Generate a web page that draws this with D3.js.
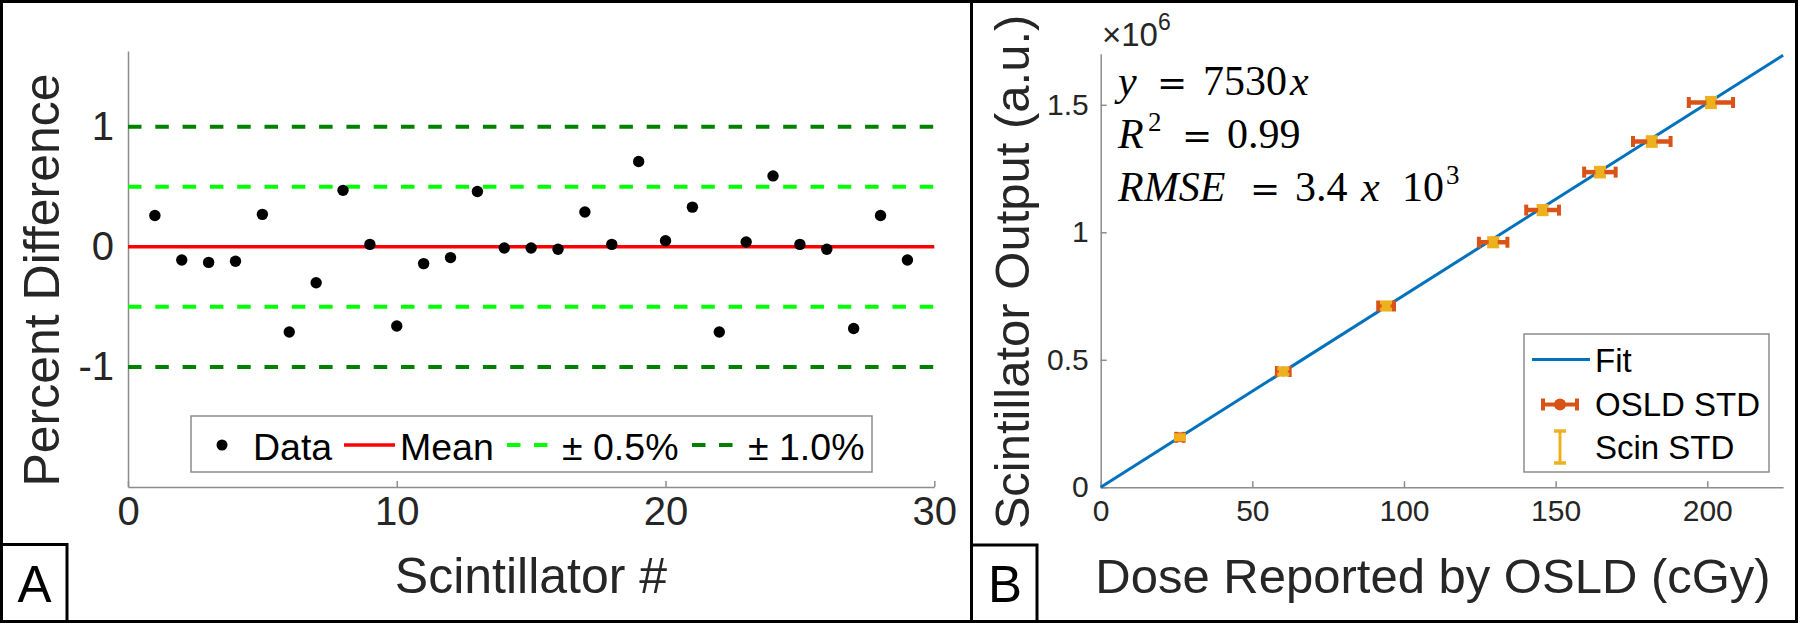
<!DOCTYPE html>
<html><head><meta charset="utf-8">
<script src="https://cdn.jsdelivr.net/npm/d3@7"></script>
<style>body{margin:0;background:#fff} svg{display:block}</style>
</head><body>
<svg id="c" width="1800" height="623"></svg>
<script>
// ---------- Panel A data ----------
const scintillatorIds = [1,2,3,4,5,6,7,8,9,10,11,12,13,14,15,16,17,18,19,20,21,22,23,24,25,26,27,28,29];
const percentDiff = [0.26,-0.11,-0.13,-0.12,0.27,-0.71,-0.30,0.47,0.02,-0.66,-0.14,-0.09,0.46,-0.01,-0.01,-0.02,0.29,0.02,0.71,0.05,0.33,-0.71,0.04,0.59,0.02,-0.02,-0.68,0.26,-0.11];
const meanValue = 0;
const innerLimits = [-0.5, 0.5];
const outerLimits = [-1, 1];
const xTicksA = [0,10,20,30];
const yTicksA = [-1,0,1];
const yTickLabelsA = ["-1","0","1"];
const legendA = ["Data","Mean","\u00B1 0.5%","\u00B1 1.0%"];

// ---------- Panel B data ----------
const doseOSLD   = [26.1, 60.2, 94.1, 129.4, 145.7, 164.6, 181.7, 201.2];
const scinOutput = [0.196, 0.454, 0.711, 0.961, 1.087, 1.236, 1.356, 1.509]; // x 10^6
const doseStd    = [1.2, 2.1, 2.6, 4.7, 5.4, 5.2, 6.2, 7.3];
const scinStd    = [0.008, 0.012, 0.014, 0.016, 0.016, 0.017, 0.017, 0.018]; // x 10^6
const fitSlope = 7530;
const fitRange = [0, 225];
const xTicksB = [0,50,100,150,200];
const yTicksB = [0,0.5,1,1.5];
const yTickLabelsB = ["0","0.5","1","1.5"];
const legendB = ["Fit","OSLD STD","Scin STD"];

const C = {blue:"#0072BD", orange:"#D95319", yellow:"#EDB120", red:"#ff0000", lgreen:"#00ff00", dgreen:"#008000", axis:"#8c8c8c", text:"#262626"};
const SANS = "'Liberation Sans', Arial, Helvetica, sans-serif";
const SERIF = "'Liberation Serif', 'Times New Roman', serif";
const SERIF2 = "'DejaVu Serif', serif";

const svg = d3.select("#c");
svg.append("rect").attr("width",1800).attr("height",623).attr("fill","#fff");

function styleAxis(g, fs){
  g.select(".domain").attr("stroke",C.axis).attr("stroke-width",1.5);
  g.selectAll(".tick line").attr("stroke",C.axis).attr("stroke-width",1.5);
  g.selectAll(".tick text").attr("fill",C.text).style("font-family",SANS).style("font-size",fs+"px");
}

// ================= Panel A =================
const xA = d3.scaleLinear().domain([0,30]).range([128,934.3]);
const yA = d3.scaleLinear().domain([-2,1.63]).range([487,51]);
const gA = svg.append("g");

const gxA = gA.append("g").attr("transform","translate(0,"+yA(-2)+")")
  .call(d3.axisBottom(xA).tickValues(xTicksA).tickFormat(d=>String(d)).tickSizeInner(-6).tickSizeOuter(0).tickPadding(10));
styleAxis(gxA,40);
const gyA = gA.append("g").attr("transform","translate("+xA(0)+",0)")
  .call(d3.axisLeft(yA).tickValues(yTicksA).tickFormat((d,i)=>yTickLabelsA[i]).tickSizeInner(-6).tickSizeOuter(0).tickPadding(14));
styleAxis(gyA,40);

function hline(g, v, color, dash){
  g.append("line").attr("x1",xA(0)).attr("x2",xA(30)).attr("y1",yA(v)).attr("y2",yA(v))
    .attr("stroke",color).attr("stroke-width",dash?4:3.5).attr("stroke-dasharray",dash?"13.5 13.8":null);
}
outerLimits.forEach(v=>hline(gA,v,C.dgreen,true));
innerLimits.forEach(v=>hline(gA,v,C.lgreen,true));
hline(gA,meanValue,C.red,false);

gA.selectAll("circle.pt").data(percentDiff).join("circle").attr("class","pt")
  .attr("cx",(d,i)=>xA(scintillatorIds[i])).attr("cy",d=>yA(d)).attr("r",5.7).attr("fill","#000");

// Legend A
const lgA = gA.append("g");
lgA.append("rect").attr("x",191).attr("y",416).attr("width",681).attr("height",56)
  .attr("fill","#fff").attr("stroke",C.axis).attr("stroke-width",1.5);
const lyA = 446;
lgA.append("circle").attr("cx",222).attr("cy",lyA-1).attr("r",5.5).attr("fill","#000");
lgA.append("line").attr("x1",344).attr("x2",395).attr("y1",lyA-1).attr("y2",lyA-1).attr("stroke",C.red).attr("stroke-width",3.5);
lgA.append("line").attr("x1",507).attr("x2",548).attr("y1",lyA-1).attr("y2",lyA-1).attr("stroke",C.lgreen).attr("stroke-width",4).attr("stroke-dasharray","13.5 13.5");
lgA.append("line").attr("x1",692).attr("x2",733).attr("y1",lyA-1).attr("y2",lyA-1).attr("stroke",C.dgreen).attr("stroke-width",4).attr("stroke-dasharray","13.5 13.5");
[253,400,562,748].forEach((x,i)=>{
  lgA.append("text").attr("x",x).attr("y",lyA+14).text(legendA[i])
    .style("font-family",SANS).style("font-size","37.5px").attr("fill","#000");
});

// Labels A
gA.append("text").attr("x",531).attr("y",593).attr("text-anchor","middle").text("Scintillator #")
  .style("font-family",SANS).style("font-size","50px").attr("fill",C.text);
gA.append("text").attr("transform","translate(59,280) rotate(-90)").attr("text-anchor","middle").text("Percent Difference")
  .style("font-family",SANS).style("font-size","50px").attr("fill",C.text);

// ================= Panel B =================
const xB = d3.scaleLinear().domain([0,225]).range([1100.7,1783.1]);
const yB = d3.scaleLinear().domain([0,1.7]).range([487.3,53.8]);
const gB = svg.append("g");

const gxB = gB.append("g").attr("transform","translate(0,"+yB(0)+")")
  .call(d3.axisBottom(xB).tickValues(xTicksB).tickFormat(d=>String(d)).tickSizeInner(-6).tickSizeOuter(0).tickPadding(12));
styleAxis(gxB,30);
const gyB = gB.append("g").attr("transform","translate("+xB(0)+",0)")
  .call(d3.axisLeft(yB).tickValues(yTicksB).tickFormat((d,i)=>yTickLabelsB[i]).tickSizeInner(-6).tickSizeOuter(0).tickPadding(12));
styleAxis(gyB,30);

// exponent label
const expT = gB.append("text").attr("x",1102).attr("y",45.5).style("font-family",SANS).style("font-size","33px").attr("fill",C.text);
expT.append("tspan").text("\u00D710");
expT.append("tspan").attr("dy",-16).style("font-size","23px").text("6");

// fit line
gB.append("line").attr("x1",xB(fitRange[0])).attr("y1",yB(fitSlope*fitRange[0]/1e6))
  .attr("x2",xB(fitRange[1])).attr("y2",yB(fitSlope*fitRange[1]/1e6))
  .attr("stroke",C.blue).attr("stroke-width",3);

// error bars
const capH = 5.5, capW = 6;
doseOSLD.forEach((d,i)=>{
  const cx = xB(d), cy = yB(scinOutput[i]);
  const x0 = xB(d-doseStd[i]), x1 = xB(d+doseStd[i]);
  const g = gB.append("g");
  g.append("line").attr("x1",x0).attr("x2",x1).attr("y1",cy).attr("y2",cy).attr("stroke",C.orange).attr("stroke-width",4.5);
  [x0,x1].forEach(x=>g.append("line").attr("x1",x).attr("x2",x).attr("y1",cy-capH).attr("y2",cy+capH).attr("stroke",C.orange).attr("stroke-width",4));
  g.append("circle").attr("cx",cx).attr("cy",cy).attr("r",5).attr("fill",C.orange);
  const y0 = yB(scinOutput[i]-scinStd[i]), y1 = yB(scinOutput[i]+scinStd[i]);
  g.append("line").attr("x1",cx).attr("x2",cx).attr("y1",y0).attr("y2",y1).attr("stroke",C.yellow).attr("stroke-width",5);
  [y0,y1].forEach(y=>g.append("line").attr("x1",cx-capW).attr("x2",cx+capW).attr("y1",y).attr("y2",y).attr("stroke",C.yellow).attr("stroke-width",4));
  g.append("rect").attr("x",cx-4.5).attr("y",Math.min(y0,y1)).attr("width",9).attr("height",Math.abs(y1-y0)).attr("fill",C.yellow);
});

// equations
function mathLine(y, parts){
  const t = gB.append("text").attr("y",y).style("font-family",SERIF).style("font-size","42px").attr("fill","#000");
  parts.forEach(p=>{
    const s = t.append("tspan").attr("x",p.x).text(p.t);
    if(p.i) s.style("font-style","italic");
    if(p.eq) s.style("font-family",SERIF2).style("font-size","36px");
    if(p.sup){ s.attr("y",y-17).style("font-size","27px"); }
    else s.attr("y",y);
  });
}
mathLine(95,[{x:1118,t:"y",i:1},{x:1157,t:"=",eq:1},{x:1203,t:"7530"},{x:1290,t:"x",i:1}]);
mathLine(148,[{x:1118,t:"R",i:1},{x:1148,t:"2",sup:1},{x:1182,t:"=",eq:1},{x:1227,t:"0.99"}]);
mathLine(201,[{x:1118,t:"RMSE",i:1},{x:1250,t:"=",eq:1},{x:1295,t:"3.4"},{x:1361,t:"x",i:1},{x:1402,t:"10"},{x:1446,t:"3",sup:1}]);

// Legend B
const lgB = gB.append("g");
lgB.append("rect").attr("x",1524).attr("y",334).attr("width",245).attr("height",138)
  .attr("fill","#fff").attr("stroke",C.axis).attr("stroke-width",1.5);
lgB.append("line").attr("x1",1532).attr("x2",1590).attr("y1",359.5).attr("y2",359.5).attr("stroke",C.blue).attr("stroke-width",3);
const oy = 404.5;
lgB.append("line").attr("x1",1543).attr("x2",1577).attr("y1",oy).attr("y2",oy).attr("stroke",C.orange).attr("stroke-width",4);
[1543,1577].forEach(x=>lgB.append("line").attr("x1",x).attr("x2",x).attr("y1",oy-6).attr("y2",oy+6).attr("stroke",C.orange).attr("stroke-width",4));
lgB.append("circle").attr("cx",1560).attr("cy",oy).attr("r",6).attr("fill",C.orange);
lgB.append("line").attr("x1",1560).attr("x2",1560).attr("y1",431).attr("y2",463).attr("stroke",C.yellow).attr("stroke-width",3);
[431,463].forEach(y=>lgB.append("line").attr("x1",1554).attr("x2",1566).attr("y1",y).attr("y2",y).attr("stroke",C.yellow).attr("stroke-width",3.5));
[[371.5,legendB[0]],[416,legendB[1]],[459,legendB[2]]].forEach(([y,t])=>{
  lgB.append("text").attr("x",1595).attr("y",y).text(t).style("font-family",SANS).style("font-size","33px").attr("fill","#000");
});

// Labels B
gB.append("text").attr("x",1433).attr("y",593).attr("text-anchor","middle").text("Dose Reported by OSLD (cGy)")
  .style("font-family",SANS).style("font-size","49px").attr("fill",C.text);
gB.append("text").attr("transform","translate(1029,272) rotate(-90)").attr("text-anchor","middle").text("Scintillator Output (a.u.)")
  .style("font-family",SANS).style("font-size","49px").attr("fill",C.text);

// ================= Frames =================
svg.append("rect").attr("x",1.5).attr("y",1.5).attr("width",1795).attr("height",620)
  .attr("fill","none").attr("stroke","#000").attr("stroke-width",3);
svg.append("line").attr("x1",971.5).attr("x2",971.5).attr("y1",0).attr("y2",623).attr("stroke","#000").attr("stroke-width",3);
svg.append("rect").attr("x",1.5).attr("y",544.5).attr("width",65.5).attr("height",77)
  .attr("fill","#fff").attr("stroke","#000").attr("stroke-width",3);
svg.append("text").attr("x",34.5).attr("y",601.5).attr("text-anchor","middle").text("A")
  .style("font-family",SANS).style("font-size","51px").attr("fill","#000");
svg.append("rect").attr("x",971.5).attr("y",545).attr("width",65.5).attr("height",76.5)
  .attr("fill","#fff").attr("stroke","#000").attr("stroke-width",3);
svg.append("text").attr("x",1005).attr("y",601.5).attr("text-anchor","middle").text("B")
  .style("font-family",SANS).style("font-size","51px").attr("fill","#000");
</script>
</body></html>
